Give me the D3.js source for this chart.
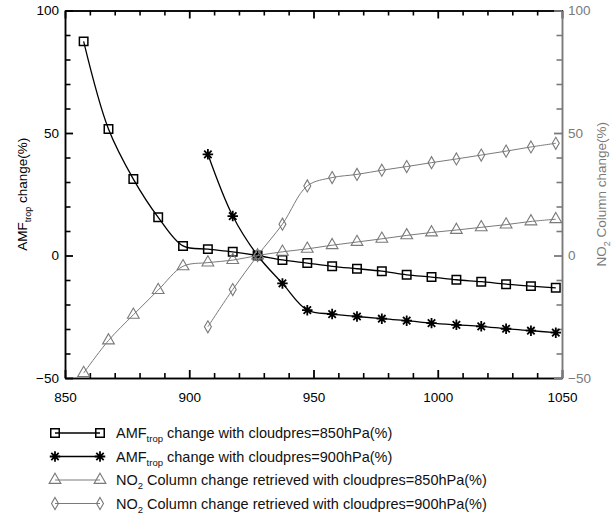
<!DOCTYPE html>
<html>
<head>
<meta charset="utf-8">
<script src="https://cdn.jsdelivr.net/npm/d3@7"></script>
<style>
  html, body { margin: 0; padding: 0; background: #fff; }
  svg { display: block; font-family: "Liberation Sans", Arial, Helvetica, sans-serif; }
</style>
</head>
<body>
<svg id="chart" width="611" height="519"></svg>
<script>
// Cloud pressure (hPa) at each computed point
const pressure = [857.5, 867.5, 877.5, 887.5, 897.5, 907.5, 917.5, 927.5, 937.5, 947.5,
                  957.5, 967.5, 977.5, 987.5, 997.5, 1007.5, 1017.5, 1027.5, 1037.5, 1047.5];

// AMF_trop change (%) with a priori cloud pressure 850 hPa
const amf850 = [87.4, 51.6, 31.2, 15.6, 3.9, 2.6, 1.5, 0, -1.8, -3.1,
                -4.4, -5.4, -6.4, -7.9, -8.8, -9.9, -10.7, -11.7, -12.5, -13.2];
// AMF_trop change (%) with cloud pressure 900 hPa (starts at 907.5)
const amf900 = [null, null, null, null, null, 41.3, 16.1, 0, -11.4, -22.3,
                -23.9, -24.9, -25.8, -26.6, -27.6, -28.3, -28.9, -29.9, -30.7, -31.5];
// NO2 column change (%) retrieved with cloud pressure 850 hPa
const no2_850 = [-48.0, -34.7, -24.2, -14.1, -4.4, -2.9, -1.9, 0, 1.5, 2.7,
                 4.2, 5.5, 6.8, 8.2, 9.4, 10.4, 11.5, 12.6, 13.9, 14.8];
// NO2 column change (%) retrieved with cloud pressure 900 hPa
const no2_900 = [null, null, null, null, null, -29.1, -13.9, 0, 12.8, 28.4,
                 31.8, 33.1, 34.8, 36.3, 37.9, 39.4, 41.0, 42.6, 44.3, 45.8];

const xTicks = [850, 900, 950, 1000, 1050];
const yTicks = [-50, 0, 50, 100];

(function () {
const svg = d3.select("#chart");
const pLeft = 65, pRight = 562, pTop = 10.5, pBottom = 378;
const x = d3.scaleLinear().domain([850, 1050]).range([pLeft, pRight]);
const y = d3.scaleLinear().domain([-50, 100]).range([pBottom, pTop]);

const BLACK = "#000", GREY = "#7a7a7a";

// ---- axes; ticks point into the plot (negative tick size) ----
function styleAxis(g, color, width) {
  g.select(".domain").attr("stroke", color).attr("stroke-width", 1.5);
  g.selectAll(".tick line").attr("stroke", color).attr("stroke-width", width);
  g.selectAll(".tick text").attr("fill", color).attr("font-size", 13.5)
    .attr("font-family", "Liberation Sans, Arial, sans-serif");
}
const xMinor = d3.range(850, 1051, 10).filter(v => v % 50 !== 0);
const yMinor = d3.range(-50, 101, 10).filter(v => v % 50 !== 0);

function addAxis(axis, tx, ty, color, width) {
  const g = svg.append("g").attr("transform", `translate(${tx},${ty})`).call(axis);
  styleAxis(g, color, width);
}
// bottom and top (black)
addAxis(d3.axisBottom(x).tickValues(xTicks).tickSizeInner(-8).tickSizeOuter(0)
  .tickPadding(14 - 0).tickFormat(d3.format("d")), 0, pBottom, BLACK, 1.8);
svg.selectAll("g").filter(function () { return this.getAttribute("transform") === `translate(0,${pBottom})`; })
  .selectAll(".tick text").attr("y", 14);
addAxis(d3.axisBottom(x).tickValues(xMinor).tickSizeInner(-5).tickSizeOuter(0).tickFormat(""), 0, pBottom, BLACK, 1.6);
addAxis(d3.axisTop(x).tickValues(xTicks).tickSizeInner(-8).tickSizeOuter(0).tickFormat(""), 0, pTop, BLACK, 1.8);
addAxis(d3.axisTop(x).tickValues(xMinor).tickSizeInner(-5).tickSizeOuter(0).tickFormat(""), 0, pTop, BLACK, 1.6);
// left (black)
addAxis(d3.axisLeft(y).tickValues(yTicks).tickSizeInner(-8).tickSizeOuter(0)
  .tickPadding(6).tickFormat(d3.format("d")), pLeft, 0, BLACK, 1.8);
addAxis(d3.axisLeft(y).tickValues(yMinor).tickSizeInner(-5.5).tickSizeOuter(0).tickFormat(""), pLeft, 0, BLACK, 1.6);
// right (grey, NO2 scale)
addAxis(d3.axisRight(y).tickValues(yTicks).tickSizeInner(-8).tickSizeOuter(0)
  .tickPadding(6).tickFormat(d3.format("d")), pRight, 0, GREY, 1.8);
addAxis(d3.axisRight(y).tickValues(yMinor).tickSizeInner(-5.5).tickSizeOuter(0).tickFormat(""), pRight, 0, GREY, 1.6);
// label offsets: d3 adds max(tickSize, 0) + padding, so place text explicitly
svg.selectAll(".tick text").each(function () {
  const t = d3.select(this);
  if (t.attr("x") !== null && +t.attr("x") < 0) t.attr("x", -6);
  if (t.attr("x") !== null && +t.attr("x") > 0) t.attr("x", 6);
});

// ---- axis titles ----
const lt = svg.append("text")
  .attr("transform", `translate(27,${(pTop + pBottom) / 2}) rotate(-90)`)
  .attr("text-anchor", "middle").attr("font-size", 13.5).attr("fill", BLACK);
lt.append("tspan").text("AMF");
lt.append("tspan").text("trop").attr("font-size", 9).attr("dy", 3.5);
lt.append("tspan").text(" change(%)").attr("dy", -3.5);

const rt = svg.append("text")
  .attr("transform", `translate(606,${(pTop + pBottom) / 2}) rotate(-90)`)
  .attr("text-anchor", "middle").attr("font-size", 13.5).attr("fill", GREY);
rt.append("tspan").text("NO");
rt.append("tspan").text("2").attr("font-size", 9).attr("dy", 3.5);
rt.append("tspan").text(" Column change(%)").attr("dy", -3.5);

// ---- marker shapes ----
const asterisk = {
  draw(ctx, size) {
    const r = Math.sqrt(size) / 2;
    const d = r * Math.SQRT1_2;
    ctx.moveTo(-r, 0); ctx.lineTo(r, 0);
    ctx.moveTo(0, -r); ctx.lineTo(0, r);
    ctx.moveTo(-d, -d); ctx.lineTo(d, d);
    ctx.moveTo(-d, d); ctx.lineTo(d, -d);
  }
};
const shapes = {
  square: d3.symbol().type(d3.symbolSquare).size(72),
  star: d3.symbol().type(asterisk).size(110),
  triangle: d3.symbol().type(d3.symbolTriangle).size(60),
  diamond: d3.symbol().type(d3.symbolDiamond).size(42)
};

const series = [
  { values: amf850, color: BLACK, shape: "square", lw: 1.3, mw: 1.5 },
  { values: amf900, color: BLACK, shape: "star", lw: 1.3, mw: 1.8 },
  { values: no2_850, color: GREY, shape: "triangle", lw: 1, mw: 1.1 },
  { values: no2_900, color: GREY, shape: "diamond", lw: 1, mw: 1.1 }
];

const line = d3.line()
  .defined(d => d[1] !== null)
  .x(d => x(d[0])).y(d => y(d[1]))
  .curve(d3.curveCatmullRom.alpha(0.5));

series.forEach(s => {
  const pts = pressure.map((p, i) => [p, s.values[i]]);
  svg.append("path").datum(pts)
    .attr("d", line).attr("fill", "none")
    .attr("stroke", s.color).attr("stroke-width", s.lw);
  svg.append("g").selectAll("path")
    .data(pts.filter(d => d[1] !== null))
    .join("path")
    .attr("transform", d => `translate(${x(d[0])},${y(d[1])})`)
    .attr("d", shapes[s.shape]())
    .attr("fill", "none")
    .attr("stroke", s.color).attr("stroke-width", s.mw);
});

// ---- legend ----
const legendRows = [
  { s: series[0], main: "AMF", sub: "trop", rest: " change with cloudpres=850hPa(%)" },
  { s: series[1], main: "AMF", sub: "trop", rest: " change with cloudpres=900hPa(%)" },
  { s: series[2], main: "NO", sub: "2", rest: " Column change retrieved with cloudpres=850hPa(%)" },
  { s: series[3], main: "NO", sub: "2", rest: " Column change retrieved with cloudpres=900hPa(%)" }
];
const legY = [433, 456.5, 480, 503.5];
const lx0 = 55, lx1 = 100, ltx = 116;
legendRows.forEach((r, i) => {
  const yy = legY[i];
  const lg = svg.append("g");
  lg.append("line").attr("x1", lx0).attr("x2", lx1).attr("y1", yy).attr("y2", yy)
    .attr("stroke", r.s.color).attr("stroke-width", r.s.lw);
  [lx0, lx1].forEach(px => {
    lg.append("path").attr("transform", `translate(${px},${yy})`)
      .attr("d", shapes[r.s.shape]())
      .attr("fill", "none").attr("stroke", r.s.color).attr("stroke-width", r.s.mw);
  });
  const t = lg.append("text").attr("x", ltx).attr("y", yy + 5)
    .attr("font-size", 14.5).attr("fill", "#111");
  t.append("tspan").text(r.main);
  t.append("tspan").text(r.sub).attr("font-size", 9.5).attr("dy", 4);
  t.append("tspan").text(r.rest).attr("dy", -4);
});
})();
</script>
</body>
</html>
